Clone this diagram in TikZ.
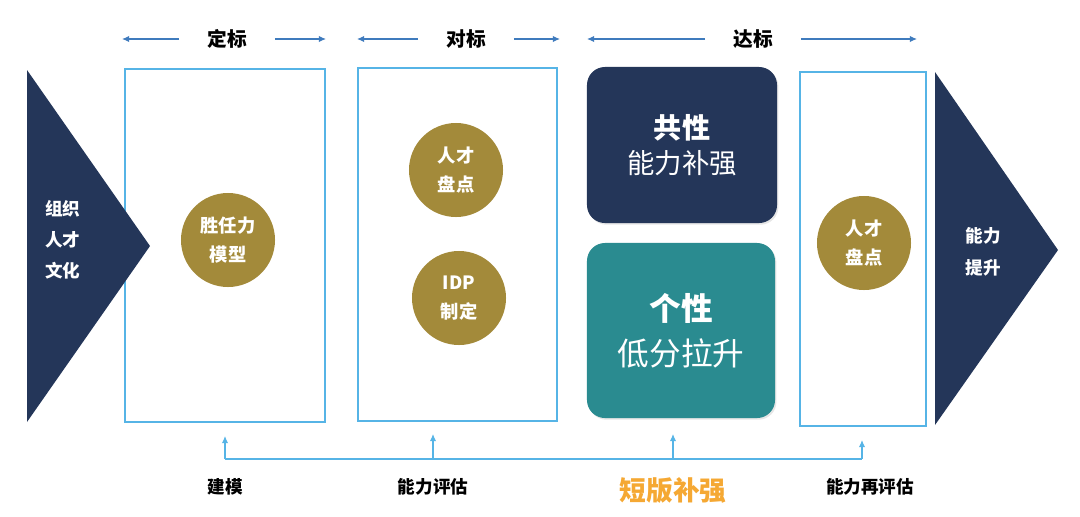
\documentclass[tikz,border=0pt]{standalone}
\usepackage{fontspec}
\setmainfont{Noto Sans CJK SC}
\definecolor{tlNavy}{HTML}{243659}
\definecolor{tlTeal}{HTML}{2A8B90}
\definecolor{tlGold}{HTML}{A38A3A}
\definecolor{tlSky}{HTML}{56B4E6}
\definecolor{tlBlue}{HTML}{3F7BBD}
\definecolor{tlOrange}{HTML}{F5A833}
\usetikzlibrary{calc,positioning,arrows.meta,shadows}

\begin{document}
\begin{tikzpicture}[x=0.025cm, y=-0.025cm,
  stage/.style={draw=tlSky, line width=0.8pt, inner sep=0pt},
  talent/.style={circle, fill=tlGold, minimum size=2.35cm, inner sep=0pt, align=center,
    text=white, font=\bfseries\fontsize{13}{20}\selectfont},
  phase/.style={font=\bfseries\fontsize{14}{16}\selectfont},
  span/.style={tlBlue, line width=0.8pt, shorten <=0.58cm, -{Latex[length=5pt,width=4.5pt]}},
  feed/.style={tlSky, line width=0.8pt},
  tag/.style={font=\bfseries\fontsize{12.5}{14}\selectfont},
  card/.style={rounded corners=0.45cm, inner sep=0pt, align=center, text=white,
    drop shadow={opacity=0.2, shadow xshift=1pt, shadow yshift=-1.2pt}}
]
  \useasboundingbox (0,0) rectangle (1080,516);

  % Phase titles
  \node[phase] (dingbiao) at (227,39) {定标};
  \node[phase] (duibiao) at (466,39) {对标};
  \node[phase] (dabiao) at (753,39) {达标};
  \coordinate (dL) at (122,39);  \coordinate (dR) at (326,39);
  \coordinate (uL) at (357,39);  \coordinate (uR) at (560,39);
  \coordinate (aL) at (587,39);  \coordinate (aR) at (917,39);
  \draw[span] (dingbiao) -- (dL);
  \draw[span] (dingbiao) -- (dR);
  \draw[span] (duibiao) -- (uL);
  \draw[span] (duibiao) -- (uR);
  \draw[span] (dabiao) -- (aL);
  \draw[span] (dabiao) -- (aR);

  % Stage frames
  \node[stage, minimum width=5cm, minimum height=8.825cm] (model) at (225,245.5) {};
  \node[stage, minimum width=4.975cm, minimum height=8.825cm] (review) at (457.5,244.5) {};
  \node[stage, minimum width=3.15cm, minimum height=8.85cm] (recheck) at (863,249) {};

  % Target cards
  \node[card, fill=tlNavy, minimum width=4.75cm, minimum height=3.9cm] (common) at (682,145)
    {\fontsize{20}{25}\selectfont\bfseries 共性\\[6pt]\fontsize{19.5}{25}\selectfont 能力补强};
  \node[card, fill=tlTeal, minimum width=4.7cm, minimum height=4.375cm] (single) at (681,330.5)
    {\fontsize{22.5}{33}\selectfont\bfseries 个性\\[10pt]\fontsize{22.5}{33}\selectfont 低分拉升};

  % Entry and exit arrows
  \fill[tlNavy] (27,70) -- (150,246) -- (27,422) -- cycle;
  \node[align=center, text=white, font=\bfseries\fontsize{12.5}{22}\selectfont] (culture) at (63,240)
    {组织\\人才\\文化};
  \fill[tlNavy] (935,72) -- (1058,250) -- (935,425) -- cycle;
  \node[align=center, text=white, font=\bfseries\fontsize{12.5}{22.5}\selectfont] (lift) at (983,252)
    {能力\\提升};

  % Talent steps
  \node[talent] (comp) at (228,240) {胜任力\\模型};
  \node[talent] (pan1) at (456,170) {人才\\盘点};
  \node[talent] (idp) at (459,298) {IDP\\制定};
  \node[talent] (pan2) at (864,243) {人才\\盘点};

  % Feedback line
  \coordinate (j1) at (225,459);
  \coordinate (j2) at (433,459);
  \coordinate (j3) at (673,459);
  \coordinate (j4) at (862,459);
  \draw[feed] (j1) -- (j4);
  \foreach \j/\t in {j1/436, j2/434, j3/434, j4/440}
    \draw[feed, -{Latex[length=5pt,width=4.5pt]}] (\j) -- (\j |- 0,\t);

  % Bottom tags
  \node[tag] (tjm) at (225,487) {建模};
  \node[tag] (tpg) at (433,487) {能力评估};
  \node[font=\bfseries\fontsize{19}{21}\selectfont, text=tlOrange] (tbq) at (673,490) {短版补强};
  \node[tag] (tzp) at (870,487) {能力再评估};
\end{tikzpicture}
\end{document}
